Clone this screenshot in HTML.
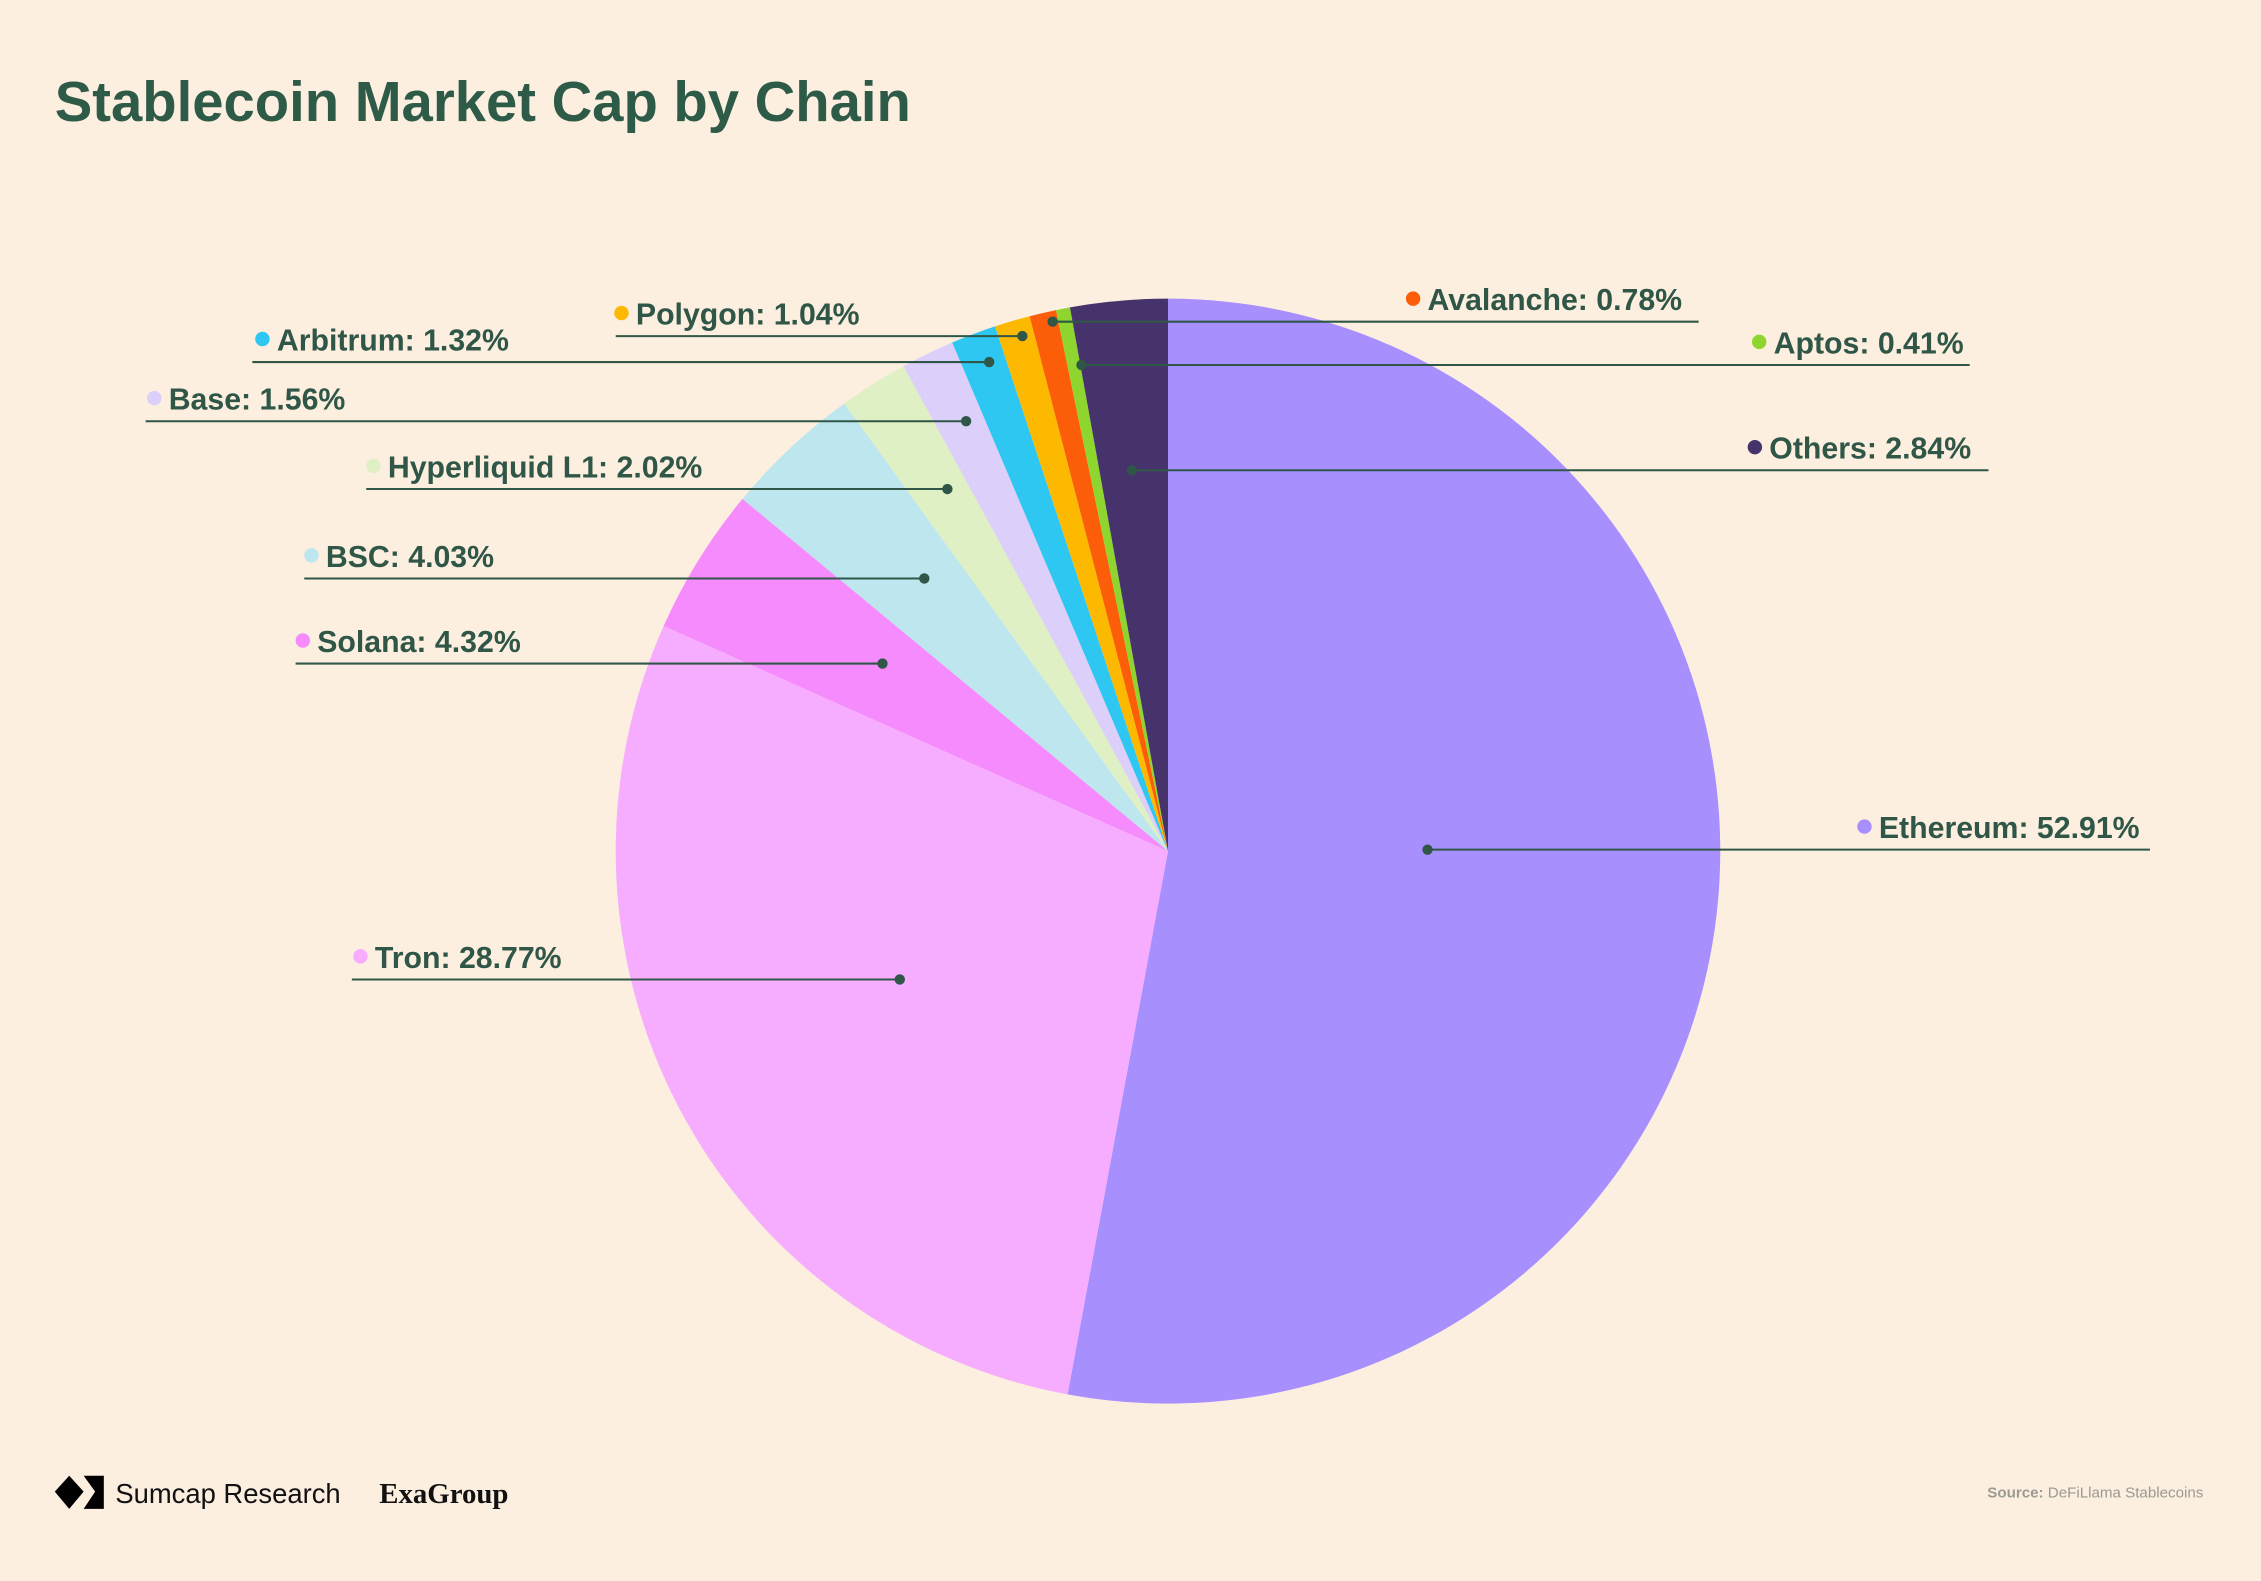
<!DOCTYPE html>
<html><head><meta charset="utf-8">
<style>
html,body{margin:0;padding:0;background:#fcefe0;}
svg{display:block;}
text{font-family:"Liberation Sans",sans-serif;}
</style></head>
<body>
<svg id="chart" width="2261" height="1581" viewBox="0 0 1568 1096" preserveAspectRatio="none">
<rect width="1568" height="1096" fill="#fcefe0"/>
<text x="38" y="84" font-size="39" font-weight="bold" fill="#2e5a48">Stablecoin Market Cap by Chain</text>
<g id="slices"></g>
<g id="labels"></g>
<g>
<polygon points="38,1034 48,1023 58,1034 48,1046" fill="#000"/>
<polygon points="58,1023 72,1023 72,1046 58,1046 66,1034" fill="#000"/>
<text x="80" y="1042" font-size="19" fill="#111">Sumcap Research</text>
</g>
<text x="263" y="1042" font-size="20" font-weight="bold" fill="#111" style="font-family:'Liberation Serif',serif">ExaGroup</text>
<text x="1528" y="1038" font-size="10.5" text-anchor="end" fill="#9a9a92"><tspan font-weight="bold">Source:</tspan> DeFiLlama Stablecoins</text>
</svg>
<script>
const categories = ["Ethereum","Tron","Solana","BSC","Hyperliquid L1","Base","Arbitrum","Polygon","Avalanche","Aptos","Others"];
const values = [52.91,28.77,4.32,4.03,2.02,1.56,1.32,1.04,0.78,0.41,2.84];
const colors = ["#a78ffe","#f7adff","#f58bfc","#bde6ee","#dff0c4","#dcd0fb","#2dc7f2","#fcb900","#fc5d08","#8ed62f","#46336b"];
// label layout: [dotX, lineY, lineX1, lineX2, markerX]
const labelLayout = {
 "Ethereum":[1293,589,990,1491,990],
 "Tron":[250,679,244,624,624],
 "Solana":[210,460,205,612,612],
 "BSC":[216,401,211,641,641],
 "Hyperliquid L1":[259,339,254,657,657],
 "Base":[107,292,101,670,670],
 "Arbitrum":[182,251,175,686,686],
 "Polygon":[431,233,427,709,709],
 "Avalanche":[980,223,730,1178,730],
 "Aptos":[1220,253,750,1366,750],
 "Others":[1217,326,785,1379,785]
};
const NS="http://www.w3.org/2000/svg";
const cx=810, cy=590, r=383;
const total = values.reduce((a,b)=>a+b,0);
function pt(frac){const a=frac*2*Math.PI;return [cx+r*Math.sin(a), cy-r*Math.cos(a)];}
let acc=0;
const sg=document.getElementById('slices');
values.forEach((v,i)=>{
 const f0=acc/total, f1=(acc+v)/total; acc+=v;
 const p0=pt(f0), p1=pt(f1);
 const large=(f1-f0)>0.5?1:0;
 const p=document.createElementNS(NS,'path');
 p.setAttribute('d',`M${cx},${cy} L${p0[0]},${p0[1]} A${r},${r} 0 ${large} 1 ${p1[0]},${p1[1]} Z`);
 p.setAttribute('fill',colors[i]);
 
 
 sg.appendChild(p);
});
const lg=document.getElementById('labels');
categories.forEach((c,i)=>{
 const L=labelLayout[c];
 const g=document.createElementNS(NS,'g');
 
 
 const line=document.createElementNS(NS,'line');
 line.setAttribute('x1',L[2]);line.setAttribute('x2',L[3]);line.setAttribute('y1',L[1]);line.setAttribute('y2',L[1]);
 line.setAttribute('stroke','#2f5646');line.setAttribute('stroke-width','1.4');
 g.appendChild(line);
 const m=document.createElementNS(NS,'circle');
 m.setAttribute('cx',L[4]);m.setAttribute('cy',L[1]);m.setAttribute('r','3.6');m.setAttribute('fill','#2f5646');
 g.appendChild(m);
 const d=document.createElementNS(NS,'circle');
 d.setAttribute('cx',L[0]);d.setAttribute('cy',L[1]-16);d.setAttribute('r','5');d.setAttribute('fill',colors[i]);
 g.appendChild(d);
 const t=document.createElementNS(NS,'text');
 t.setAttribute('x',L[0]+10);t.setAttribute('y',L[1]-8);
 t.setAttribute('font-size','21');t.setAttribute('font-weight','bold');t.setAttribute('fill','#2f5646');
 t.textContent=c+': '+values[i].toFixed(2)+'%';
 g.appendChild(t);
 lg.appendChild(g);
});
</script>
</body></html>
